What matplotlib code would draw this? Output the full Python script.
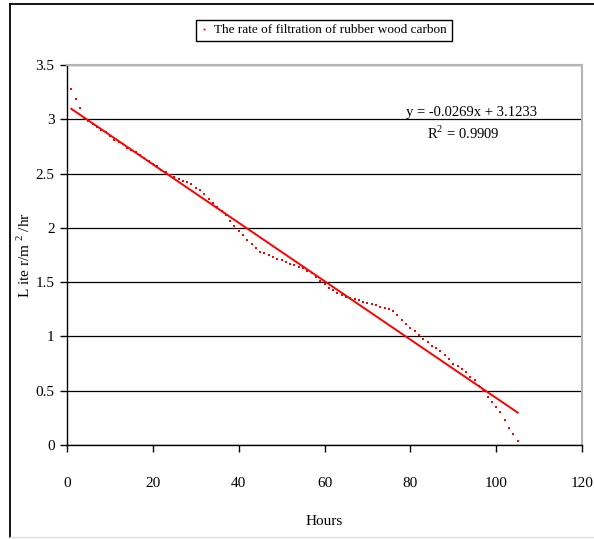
import matplotlib
matplotlib.use("Agg")
import matplotlib.pyplot as plt
from matplotlib.lines import Line2D

plt.rcParams['font.family'] = ['Liberation Serif', 'DejaVu Serif']
plt.rcParams['mathtext.fontset'] = 'custom'
plt.rcParams['mathtext.rm'] = 'Liberation Serif'

# filtration rate, one point per hour
hours = list(range(1, 106))
rate = [3.28, 3.19, 3.10, 3.01, 2.98, 2.955, 2.93, 2.90, 2.88, 2.85,
        2.81, 2.79, 2.77, 2.74, 2.72, 2.70, 2.67, 2.64, 2.62, 2.59,
        2.57, 2.53, 2.51, 2.49, 2.47, 2.45, 2.43, 2.425, 2.40, 2.37,
        2.345, 2.31, 2.27, 2.23, 2.19, 2.155, 2.115, 2.06, 2.015, 1.97,
        1.93, 1.89, 1.85, 1.81, 1.78, 1.765, 1.75, 1.735, 1.715, 1.70,
        1.685, 1.67, 1.66, 1.64, 1.63, 1.60, 1.58, 1.55, 1.51, 1.48,
        1.45, 1.43, 1.40, 1.38, 1.365, 1.355, 1.345, 1.335, 1.32, 1.31,
        1.30, 1.285, 1.27, 1.26, 1.25, 1.23, 1.195, 1.155, 1.115, 1.075,
        1.05, 1.015, 0.98, 0.95, 0.915, 0.895, 0.865, 0.83, 0.79, 0.75,
        0.73, 0.70, 0.67, 0.63, 0.60, 0.54, 0.50, 0.44, 0.40, 0.35,
        0.30, 0.23, 0.16, 0.10, 0.04]

slope = -0.0269
intercept = 3.1233
r_squared = 0.9909
trend_x = [hours[0], hours[-1]]
trend_y = [slope * x + intercept for x in trend_x]

x_ticks = [0, 20, 40, 60, 80, 100, 120]
y_ticks = [0, 0.5, 1, 1.5, 2, 2.5, 3, 3.5]
y_tick_labels = ['0', '0.5', '1', '1.5', '2', '2.5', '3', '3.5']

fig = plt.figure(figsize=(5.94, 5.39), dpi=100)
ax = fig.add_axes([67 / 594, 1 - 445 / 539, 515 / 594, 380 / 539])

ax.plot(hours, rate, linestyle='none', marker='s', markersize=1.9,
        markeredgewidth=0, color='red',
        label='The rate of filtration of rubber wood carbon')
ax.plot(trend_x, trend_y, color='red', linewidth=1.4)

ax.set_xlim(0, 120)
ax.set_ylim(0, 3.5)
ax.set_xticks(x_ticks)
ax.set_yticks(y_ticks)
ax.set_yticklabels(y_tick_labels)
ax.yaxis.grid(True, color='black', linewidth=0.9)
ax.tick_params(direction='out', length=5, width=1, labelsize=11)
ax.tick_params(axis='x', pad=18)
ax.tick_params(axis='y', pad=4)

for side in ['left', 'bottom']:
    ax.spines[side].set_linewidth(1)
for side in ['top', 'right']:
    ax.spines[side].set_color('#b4b4b4')
    ax.spines[side].set_linewidth(1.5)

ax.set_xlabel('Hours', fontsize=11)
ax.xaxis.set_label_coords(0.5, -0.184)
ax.set_ylabel('L ite r/m $^{2}$ /hr', fontsize=11)
ax.yaxis.set_label_coords(-0.066, 0.5)

ax.text(0.786, 0.876, 'y = -0.0269x + 3.1233', transform=ax.transAxes,
        ha='center', va='center', fontsize=10.5)
ax.text(0.769, 0.821, 'R$^{2}$ = %.4f' % r_squared, transform=ax.transAxes,
        ha='center', va='center', fontsize=10.5)

leg = fig.legend(loc='upper center', bbox_to_anchor=(324 / 594, 1 - 13 / 539),
                 fancybox=False, edgecolor='black', fontsize=9.5,
                 handlelength=0.5, handletextpad=0.5, borderpad=0.35,
                 markerscale=0.7, framealpha=1)
leg.get_frame().set_linewidth(1)

# outer chart frame
fig.add_artist(Line2D([10 / 594, 1], [1 - 3.5 / 539, 1 - 3.5 / 539],
                      transform=fig.transFigure, color='black', linewidth=1.3))
fig.add_artist(Line2D([10 / 594, 10 / 594], [1 - 3.5 / 539, 1 - 537 / 539],
                      transform=fig.transFigure, color='black', linewidth=1.3))
fig.add_artist(Line2D([10 / 594, 1], [1 - 537 / 539, 1 - 537 / 539],
                      transform=fig.transFigure, color='#e0e0e0', linewidth=1))

fig.savefig('out.png', dpi=100)
